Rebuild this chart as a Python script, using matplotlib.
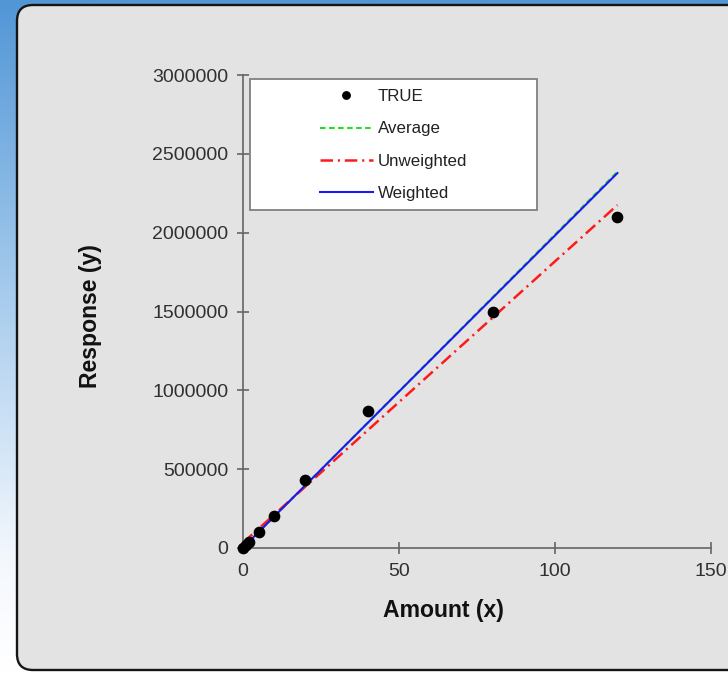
import numpy as np
import matplotlib
matplotlib.use("Agg")
import matplotlib.pyplot as plt
from matplotlib.patches import FancyBboxPatch, Rectangle
from matplotlib.colors import LinearSegmentedColormap
from matplotlib.ticker import StrMethodFormatter

plt.rcParams['font.family'] = ['Liberation Sans', 'DejaVu Sans']
plt.rcParams['lines.scale_dashes'] = False

# Calibration standards
amount = [0, 1, 2, 5, 10, 20, 40, 80, 120]
response = [0, 20000, 40000, 102000, 203000, 431000, 869000, 1497000, 2099000]

# Fitted calibration lines (end points at x = 0 and x = 120)
fit_x = [0, 120]
average_fit = [0, 2386000]
unweighted_fit = [33000, 2175000]
weighted_fit = [2000, 2378000]

x_ticks = [0, 50, 100, 150]
y_ticks = [0, 500000, 1000000, 1500000, 2000000, 2500000, 3000000]

W, H = 728, 674
fig = plt.figure(figsize=(W / 100, H / 100), dpi=100)

# Slide-style background: blue gradient with a rounded gray panel
bg = fig.add_axes([0, 0, 1, 1])
bg.set_xlim(0, W)
bg.set_ylim(H, 0)
bg.axis('off')
cmap = LinearSegmentedColormap.from_list(
    'sky', [(0.0, '#5296d6'), (0.45, '#a9cdee'), (0.83, '#f4f8fd'), (1.0, '#ffffff')])
grad = np.linspace(0, 1, 256).reshape(-1, 1)
bg.imshow(grad, cmap=cmap, extent=[0, W, H, 0], aspect='auto', zorder=0)
panel = FancyBboxPatch((17, 5), 760, 665, boxstyle='round,pad=0,rounding_size=16',
                       facecolor='#e3e3e3', edgecolor='#151515', linewidth=1.7, zorder=1)
bg.add_patch(panel)

ax = fig.add_axes([243 / W, (H - 548) / H, 468 / W, 473 / H])
ax.set_facecolor('none')

ax.plot(fit_x, average_fit, color='#22dd22', linewidth=1.5, linestyle=(0, (4, 2.5)),
        label='Average', zorder=3)
ax.plot(fit_x, unweighted_fit, color='#ff1a1a', linewidth=1.8,
        linestyle=(0, (9, 3.5, 1.5, 3.5)), label='Unweighted', zorder=3)
ax.plot(fit_x, weighted_fit, color='#1a1aee', linewidth=1.5, label='Weighted', zorder=4)
ax.plot(amount, response, 'o', color='black', markersize=7.4, linestyle='none',
        label='TRUE', zorder=5, clip_on=False)

ax.set_xlim(0, 150)
ax.set_ylim(0, 3000000)
ax.set_xticks(x_ticks)
ax.set_yticks(y_ticks)
ax.yaxis.set_major_formatter(StrMethodFormatter('{x:.0f}'))
for s in ('top', 'right'):
    ax.spines[s].set_visible(False)
for s in ('left', 'bottom'):
    ax.spines[s].set_color('#666666')
    ax.spines[s].set_linewidth(1.2)
ax.tick_params(direction='inout', length=9, width=1.2, color='#666666',
               labelsize=14, labelcolor='#303030', pad=6)

# Legend panel
ax.add_patch(Rectangle((0.015, 0.7146), 0.613, 0.277, transform=ax.transAxes,
                       facecolor='white', edgecolor='#808080', linewidth=1.3,
                       zorder=6, clip_on=False))
handles, labels = ax.get_legend_handles_labels()
order = [3, 0, 1, 2]
leg = ax.legend([handles[i] for i in order], [labels[i] for i in order],
                loc='upper left', bbox_to_anchor=(0.1645, 0.970), frameon=False,
                borderpad=0, borderaxespad=0, fontsize=12.2, handlelength=3.1,
                handletextpad=0.3, labelspacing=1.02, markerscale=0.72)
leg.set_zorder(7)
for t in leg.get_texts():
    t.set_color('#222222')

fig.text(443 / W, 1 - 611 / H, 'Amount (x)', ha='center', va='center',
         fontsize=16.6, fontweight='bold', color='#111111')
fig.text(90 / W, 1 - 316 / H, 'Response (y)', ha='center', va='center',
         rotation=90, fontsize=16.6, fontweight='bold', color='#111111')

fig.savefig('out.png', dpi=100)
